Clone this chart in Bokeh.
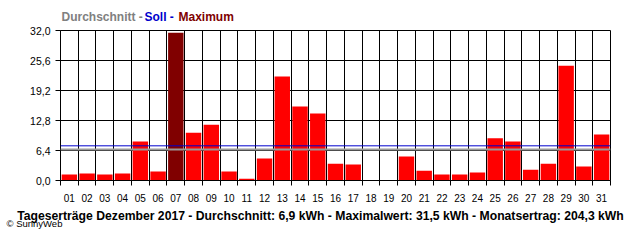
from bokeh.plotting import figure
from bokeh.layouts import column
from bokeh.models import Range1d, FixedTicker, CustomJSTickFormatter, Span, Label, ColumnDataSource
from bokeh.embed import file_html
from bokeh.resources import INLINE

days = ["%02d" % d for d in range(1, 32)]
values = [1.3, 1.5, 1.3, 1.5, 8.3, 1.9, 31.5, 10.2, 11.9, 1.9, 0.4, 4.7, 22.2, 15.8, 14.3, 3.6,
          3.4, 0.0, 0.0, 5.1, 2.1, 1.3, 1.3, 1.7, 9.0, 8.3, 2.3, 3.6, 24.5, 3.0, 9.8]
y_ticks = [0.0, 6.4, 12.8, 19.2, 25.6, 32.0]
average = 6.6
soll = 7.4
title_parts = [("Durchschnitt -", "#808080"), ("Soll -", "#0000cc"), ("Maximum", "#800000")]
footer = "Tageserträge Dezember 2017 - Durchschnitt: 6,9 kWh - Maximalwert: 31,5 kWh - Monatsertrag: 204,3 kWh"
credit = "© SunnyWeb"

W = 640


def text_strip(h):
    f = figure(width=W, height=h, output_backend="svg", toolbar_location=None,
               x_range=Range1d(0, W), y_range=Range1d(0, h),
               x_axis_type=None, y_axis_type=None,
               min_border=0, min_border_left=0, min_border_right=0,
               min_border_top=0, min_border_bottom=0)
    f.frame_align = False
    f.outline_line_color = None
    f.background_fill_color = "white"
    f.border_fill_color = "white"
    f.xgrid.visible = False
    f.ygrid.visible = False
    return f


# --- top strip with the coloured legend title ---
top = text_strip(24)
starts = [61, 144, 178]
for (txt, col), x0 in zip(title_parts, starts):
    top.add_layout(Label(x=x0, y=7.5, text=txt, text_color=col, text_font="Liberation Sans",
                         text_font_style="bold", text_font_size="12px", text_baseline="alphabetic"))

# --- main chart ---
xs = list(range(1, 32))
vmax = max(values)
colors = ["#800000" if v == vmax else "#ff0000" for v in values]
src = ColumnDataSource(dict(x=xs, top=values, color=colors))

p = figure(width=W, height=186, output_backend="svg", toolbar_location=None,
           x_range=Range1d(0.5, 31.5), y_range=Range1d(0, 32),
           min_border_left=60, min_border_right=30, min_border_top=6, min_border_bottom=30)
p.frame_align = False
p.background_fill_color = "white"
p.border_fill_color = "white"
p.outline_line_color = "black"
p.outline_line_width = 1

p.vbar(x="x", top="top", width=0.87, bottom=0, fill_color="color", line_color=None, source=src)

p.add_layout(Span(location=average, dimension="width", line_color="#999999", line_width=2))
p.add_layout(Span(location=soll, dimension="width", line_color="#0000cc", line_width=1))

boundaries = [i + 0.5 for i in range(0, 32)]
p.xaxis.ticker = FixedTicker(ticks=xs, minor_ticks=boundaries)
p.xaxis.major_label_overrides = {x: d for x, d in zip(xs, days)}
p.xaxis.major_tick_out = 0
p.xaxis.major_tick_in = 0
p.xaxis.minor_tick_out = 5
p.xaxis.minor_tick_in = 0
p.xaxis.major_label_standoff = 8
p.xgrid.ticker = FixedTicker(ticks=boundaries)

p.yaxis.ticker = FixedTicker(ticks=y_ticks)
p.yaxis.formatter = CustomJSTickFormatter(code="return tick.toFixed(1).replace('.', ',');")
p.yaxis.major_tick_out = 5
p.yaxis.major_tick_in = 0
p.yaxis.major_label_standoff = 5

for ax in (p.xaxis[0], p.yaxis[0]):
    ax.axis_line_color = "black"
    ax.major_tick_line_color = "black"
    ax.major_label_text_font = "Liberation Sans"
    ax.major_label_text_color = "black"
p.xaxis.minor_tick_line_color = "black"
p.yaxis.minor_tick_line_color = None
p.xaxis.major_label_text_font_size = "10px"
p.yaxis.major_label_text_font_size = "10.5px"
p.ygrid.ticker = FixedTicker(ticks=y_ticks)

for g in (p.xgrid[0], p.ygrid[0]):
    g.grid_line_color = "black"
    g.grid_line_width = 1
    g.grid_line_alpha = 1.0

# --- bottom strip with the summary line and credit ---
bottom = text_strip(30)
bottom.add_layout(Label(x=320, y=25, text=footer, text_color="black", text_font="Liberation Sans",
                        text_font_style="bold", text_font_size="12.2px", text_align="center",
                        text_baseline="alphabetic"))
bottom.add_layout(Label(x=6, y=17.5, text=credit, text_color="black", text_font="Liberation Sans",
                        text_font_size="9.5px", text_baseline="alphabetic"))

layout = column(top, p, bottom, spacing=0)
open("out.html", "w").write(file_html(layout, INLINE))
